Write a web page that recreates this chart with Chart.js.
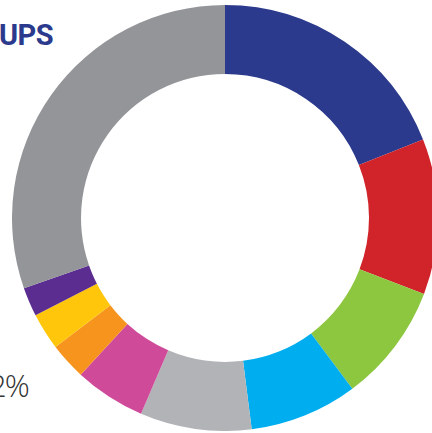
<!DOCTYPE html>
<html>
<head>
<meta charset="utf-8">
<script src="https://cdn.jsdelivr.net/npm/chart.js@4/dist/chart.umd.min.js"></script>
<style>
    html, body { margin: 0; padding: 0; width: 432px; height: 433px; overflow: hidden; background: #fff; }
    #wrap { position: absolute; left: 12px; top: 5px; width: 426px; height: 426px; }
    .title { position: absolute; left: -1px; top: 18px; font-family: Roboto, sans-serif; font-weight: 700; font-size: 29px; color: #2b3a8c; letter-spacing: -0.5px; }
    .pct { position: absolute; left: -11px; top: 364px; font-family: "Open Sans", sans-serif; font-weight: 300; font-size: 31px; color: #333; letter-spacing: -2px; white-space: nowrap; }
</style>
</head>
<body>
<div class="title">UPS</div>
<div class="pct">2%</div>
<div id="wrap"><canvas id="donutChart"></canvas></div>
<script>
// data (percent of the ring)
const labels = ['Blue', 'Red', 'Green', 'Cyan', 'Light grey', 'Magenta', 'Orange', 'Yellow', 'Purple', 'Grey'];
const values = [19.0, 11.8, 9.0, 8.2, 8.45, 5.4, 2.8, 2.8, 2.2, 30.35];
const colors = ['#2b3a8c', '#d0232a', '#8dc63f', '#00aeef', '#b1b3b6', '#cf4b9a', '#f7941d', '#ffc60b', '#5b2d90', '#939598'];

document.addEventListener('DOMContentLoaded', function () {
    const ctx = document.getElementById('donutChart').getContext('2d');
    new Chart(ctx, {
        type: 'doughnut',
        data: {
            labels: labels,
            datasets: [{
                data: values,
                backgroundColor: colors,
                borderWidth: 0,
                hoverOffset: 0
            }]
        },
        options: {
            responsive: true,
            maintainAspectRatio: false,
            animation: false,
            cutout: '67.6%',
            layout: { padding: 0 },
            plugins: {
                legend: { display: false },
                tooltip: { enabled: false }
            }
        }
    });
});
</script>
</body>
</html>
